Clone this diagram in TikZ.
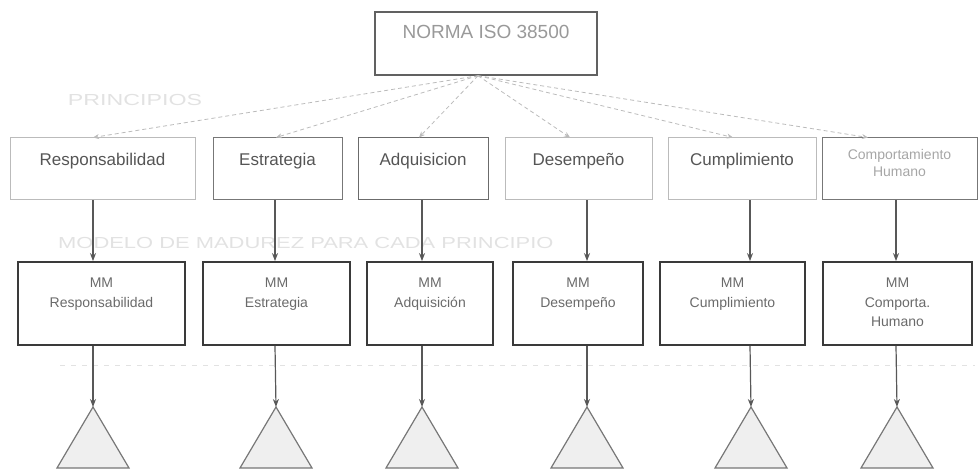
\documentclass[tikz,border=0pt]{standalone}
\usepackage{fontspec}
\setmainfont{Liberation Sans}
\usetikzlibrary{arrows.meta}
\definecolor{faint}{HTML}{E2E2E2}
\definecolor{lightline}{HTML}{BBBBBB}
\definecolor{midline}{HTML}{777777}
\definecolor{darkline}{HTML}{3A3A3A}
\definecolor{ptext}{HTML}{555555}
\definecolor{mtext}{HTML}{6A6A6A}
\definecolor{trifill}{HTML}{EFEFEF}
\newcommand\toplines[1]{\begin{tabular}[t]{@{}c@{}}#1\end{tabular}}
\begin{document}
\begin{tikzpicture}[x=1pt,y=-1pt,
  topbox/.style={draw=darkline!80,line width=1.4pt,inner sep=0pt,minimum width=222pt,minimum height=63pt,
    text height=27pt,text depth=36pt,text=black!40,font=\fontsize{19}{22}\selectfont},
  pbox/.style={draw=lightline,line width=1pt,inner sep=0pt,minimum height=62pt,
    text height=28pt,text depth=34pt,text=ptext,font=\fontsize{17}{20}\selectfont},
  mbox/.style={draw=darkline,line width=1.8pt,inner sep=0pt,minimum height=83pt,
    text height=26pt,text depth=57pt,text=mtext,font=\fontsize{14}{19.5}\selectfont},
  dashlink/.style={draw=lightline,line width=0.8pt,dash pattern=on 4pt off 3pt,
    -{Stealth[length=6pt,width=5pt]}},
  vlink/.style={draw=darkline!85,line width=1.2pt,-{Stealth[length=8pt,width=6pt]}},
  tri/.style={draw=midline,line width=1.2pt,fill=trifill},
  faintlabel/.style={text=faint,inner sep=0pt,font=\fontsize{16}{18}\selectfont}
]
\useasboundingbox (0,0) rectangle (980,470);

% faint background labels
\node[faintlabel] (lblp) at (135,100) {\scalebox{1.45}[1]{PRINCIPIOS}};
\node[faintlabel,anchor=west] (lblm) at (58,243) {\scalebox{1.37}[1]{MODELO DE MADUREZ PARA CADA PRINCIPIO}};
\coordinate (dl1) at (60,365);
\coordinate (dl2) at (975,365);
\draw[faint,line width=0.8pt,dash pattern=on 5pt off 6pt] (dl1) -- (dl2);

% top node
\node[topbox] (top) at (486,43.5) {NORMA ISO 38500};

% principle boxes
\node[pbox,minimum width=185pt] (p1) at (102.5,169) {Responsabilidad};
\node[pbox,minimum width=129pt,draw=midline] (p2) at (277.5,169) {Estrategia};
\node[pbox,minimum width=130pt,draw=midline!90!black] (p3) at (423,169) {Adquisicion};
\node[pbox,minimum width=147pt] (p4) at (578.5,169) {Desempeño};
\node[pbox,minimum width=148pt] (p5) at (742,169) {Cumplimiento};
\node[pbox,minimum width=155pt,draw=midline,text=black!35,text height=22pt,text depth=40pt,
  font=\fontsize{14}{17}\selectfont] (p6) at (899.5,169) {\toplines{Comportamiento\\Humano}};

% maturity model boxes
\node[mbox,minimum width=167pt] (m1) at (101.5,303.5) {\toplines{MM\\Responsabilidad}};
\node[mbox,minimum width=147pt] (m2) at (276.5,303.5) {\toplines{MM\\Estrategia}};
\node[mbox,minimum width=126pt] (m3) at (430,303.5) {\toplines{MM\\Adquisición}};
\node[mbox,minimum width=130pt] (m4) at (578,303.5) {\toplines{MM\\Desempeño}};
\node[mbox,minimum width=145pt] (m5) at (732.5,303.5) {\toplines{MM\\Cumplimiento}};
\node[mbox,minimum width=149pt] (m6) at (897.5,303.5) {\toplines{MM\\Comporta.\\Humano}};

% column coordinates
\coordinate (src) at ([xshift=-8pt]top.south);
\coordinate (d1) at (93,0);
\coordinate (d2) at (276,0);
\coordinate (d3) at (419,0);
\coordinate (d4) at (570,0);
\coordinate (d5) at (733,0);
\coordinate (d6) at (868,0);
\coordinate (v1) at (93,0);
\coordinate (v2) at (275,0);
\coordinate (v3) at (422,0);
\coordinate (v4) at (587,0);
\coordinate (v5) at (750,0);
\coordinate (v6) at (896,0);

% triangles
\foreach \i/\x in {1/93,2/276,3/422,4/587,5/751,6/897}{
  \coordinate (t\i) at (\x,407);
  \draw[tri] (t\i) -- ++(-36,61) -- ++(72,0) -- cycle;
}

% dashed links from the norm to the principles
\foreach \i in {1,...,6}{
  \draw[dashlink] (src) -- (p\i.north -| d\i);
}

% vertical links
\foreach \i in {1,...,6}{
  \draw[vlink] (p\i.south -| v\i) -- (m\i.north -| v\i);
  \draw[vlink] (m\i.south -| v\i) -- (t\i);
}
\end{tikzpicture}
\end{document}
